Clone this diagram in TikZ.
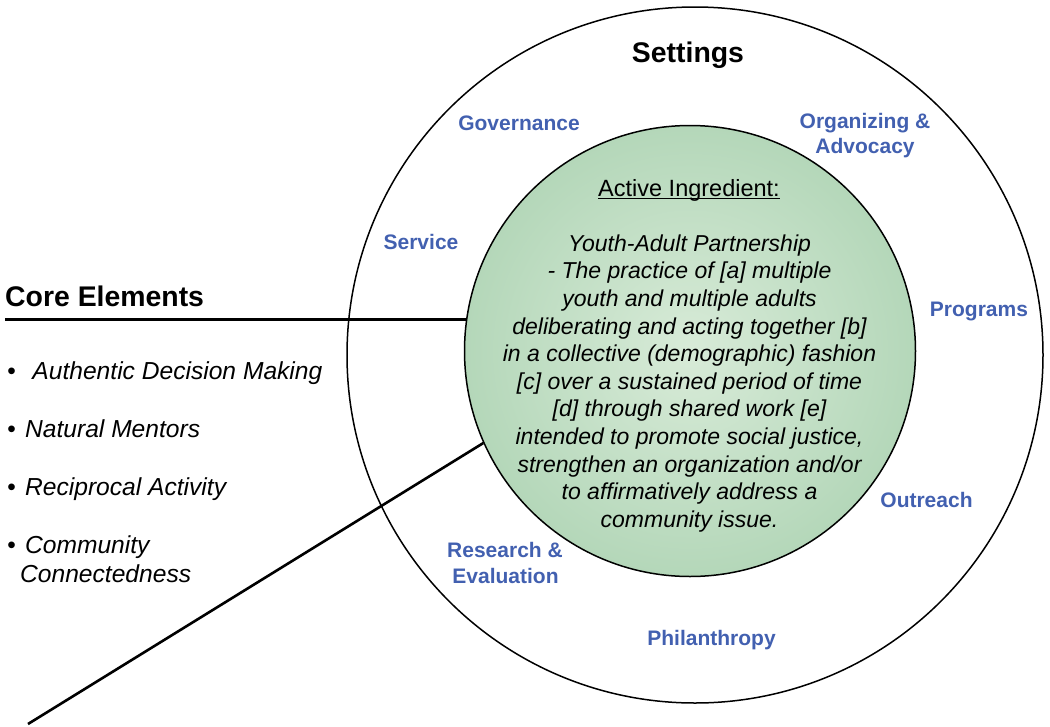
\documentclass[tikz,border=0pt]{standalone}
\usepackage{fontspec}
\setmainfont{Liberation Sans}
\definecolor{setblue}{RGB}{66,96,176}
\definecolor{gin}{RGB}{216,235,216}
\definecolor{gout}{RGB}{180,215,185}
\begin{document}
\begin{tikzpicture}[x=1pt,y=-1pt,
  ring/.style={draw=black, line width=1.5pt, circle, inner sep=0pt},
  link/.style={draw=black, line width=2.6pt},
  setting/.style={font=\fontsize{21}{25}\selectfont\bfseries, text=setblue, anchor=base, inner sep=0pt},
  heading/.style={font=\fontsize{28.4}{32}\selectfont\bfseries, inner sep=0pt},
  core/.style={font=\fontsize{24.6}{29}\selectfont\itshape, anchor=base west, inner sep=0pt},
  ingr/.style={font=\fontsize{23}{27.6}\selectfont\itshape, anchor=base, inner sep=0pt}]
\useasboundingbox (0,0) rectangle (1050,726);

% circles
\node[ring, minimum size=696pt] (outer) at (695,355) {};
\node[ring, minimum size=451pt, inner color=gin, outer color=gout] (inner) at (690,351) {};

% connectors
\coordinate (hleft) at (5,0);
\coordinate (dleft) at (28,724);
\draw[link] (inner.172.6) -- (inner.172.6 -| hleft);
\draw[link] (inner.204) -- (dleft);

% titles
\node[heading, anchor=base] (settings) at (688,62) {Settings};
\node[heading, anchor=base west] (coreel) at (5,306) {Core Elements};

% settings labels
\node[setting] (gov) at (519,130) {Governance};
\node[setting] (org1) at (865,128.5) {Organizing \&};
\node[setting] (org2) at (865,153.5) {Advocacy};
\node[setting] (serv) at (421,249.5) {Service};
\node[setting] (prog) at (979,316.5) {Programs};
\node[setting] (outr) at (926.5,507) {Outreach};
\node[setting] (res1) at (505,557) {Research \&};
\node[setting] (res2) at (505.5,583) {Evaluation};
\node[setting] (phil) at (711.5,645) {Philanthropy};

% core element list
\node[core] (c1) at (7,379) {•\ \ \kern3pt Authentic Decision Making};
\node[core] (c2) at (7,437) {•\kern2.5pt\ Natural Mentors};
\node[core] (c3) at (7,495) {•\kern2.5pt\ Reciprocal Activity};
\node[core] (c4) at (7,553) {•\kern2.5pt\ Community};
\node[core] (c5) at (20,582) {Connectedness};

% active ingredient
\node[font=\fontsize{23.5}{27.6}\selectfont, anchor=base, inner sep=0pt] (act) at (689,196) {Active Ingredient:};
\draw[line width=1.3pt] ([yshift=-2.4pt]act.base west) -- ([yshift=-2.4pt]act.base east);
\foreach \t [count=\k from 2] in {{Youth-Adult Partnership},
  {- The practice of [a] multiple},
  {youth and multiple adults},
  {deliberating and acting together [b]},
  {in a collective (demographic) fashion},
  {[c] over a sustained period of time},
  {[d] through shared work [e]},
  {intended to promote social justice,},
  {strengthen an organization and/or},
  {to affirmatively address a},
  {community issue.}}
  \node[ingr] (ln\k) at (689.5,{196+27.6*\k}) {\t};
\end{tikzpicture}
\end{document}
